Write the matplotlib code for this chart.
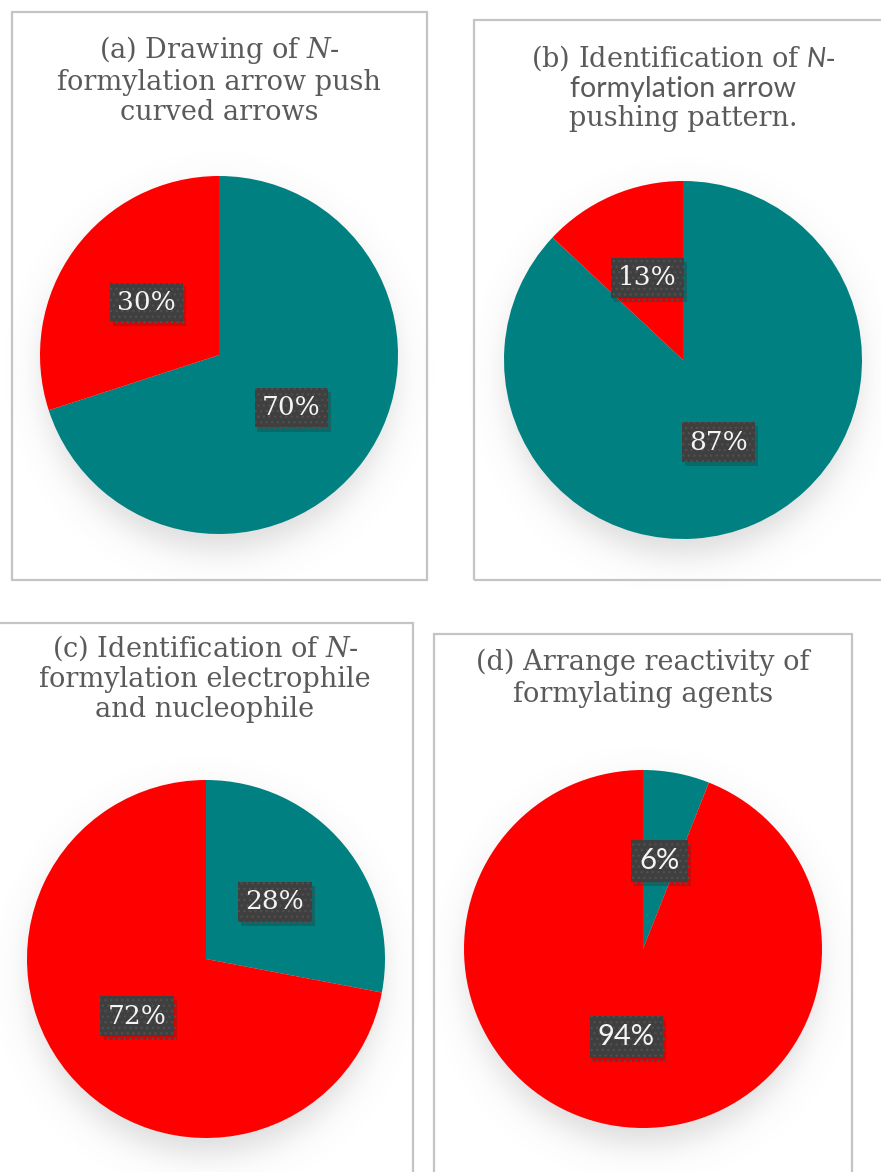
import numpy as np
import matplotlib
matplotlib.use("Agg")
import matplotlib.pyplot as plt
import matplotlib.patheffects as pe
from matplotlib.patches import Rectangle

# ---- data ----
titles = [
    ["(a) Drawing of $\\mathit{N}$-", "formylation arrow push", "curved arrows"],
    ["(b) Identification of $\\mathsf{N}$-", "formylation arrow", "pushing pattern."],
    ["(c) Identification of $\\mathit{N}$-", "formylation electrophile", "and nucleophile"],
    ["(d) Arrange reactivity of", "formylating agents"],
]
# first value = teal slice, second = red slice (clockwise from 12 o'clock)
teal_share = [70, 87, 28, 6]
red_share = [30, 13, 72, 94]
slice_colors = ["#008080", "#FF0000"]

# ---- layout (pixels) ----
W, H = 881, 1172
panel_boxes = [(12, 12, 427, 580), (474, 20, 886, 580), (-5, 623, 413, 1180), (434, 634, 852, 1180)]
pie_centers = [(219, 355), (683, 360), (206, 959), (643, 949)]
pie_radius = 179
title_lines_y = [[58, 90, 120], [67, 97, 126], [657, 687, 717], [670, 702]]
title_x = [219, 683, 205, 643]
# fonts for each line (line 2 of (b) and labels of (d) are in a sans face)
line_fonts = [
    ["DejaVu Serif"] * 3,
    ["DejaVu Serif", "Lato", "DejaVu Serif"],
    ["DejaVu Serif"] * 3,
    ["DejaVu Serif"] * 2,
]
label_fonts = ["DejaVu Serif", "DejaVu Serif", "DejaVu Serif", "Lato"]

plt.rcParams["mathtext.fontset"] = "custom"
plt.rcParams["mathtext.it"] = "DejaVu Serif:italic"
plt.rcParams["mathtext.sf"] = "Lato:italic"
plt.rcParams["hatch.linewidth"] = 1.0

fig = plt.figure(figsize=(W / 100, H / 100), dpi=100)
fig.patch.set_facecolor("white")


def fx(x):
    return x / W


def fy(y):
    return 1 - y / H


# panel borders
for x0, y0, x1, y1 in panel_boxes:
    fig.patches.append(Rectangle((fx(x0), fy(y1)), fx(x1) - fx(x0), fy(y0) - fy(y1),
                                 transform=fig.transFigure, fill=False,
                                 edgecolor="#c4c4c4", linewidth=1.6))

# soft drop shadow image under each pie
S = 460
lim = S / 2 / pie_radius
g = np.linspace(-lim, lim, 300)
gx, gy = np.meshgrid(g, g)
d = np.hypot(gx * 1.02, gy + 0.09)
shadow = np.zeros((300, 300, 4))
shadow[..., :3] = 0.45
shadow[..., 3] = 0.25 * 0.5 * (1 - np.tanh((d - 1.0) / 0.11))

for i in range(4):
    cx, cy = pie_centers[i]
    ax = fig.add_axes([fx(cx - S / 2), fy(cy + S / 2), S / W, S / H])
    ax.imshow(shadow, extent=(-lim, lim, -lim, lim), origin="lower", zorder=0)

    wedges, texts, autotexts = ax.pie(
        [teal_share[i], red_share[i]], colors=slice_colors, startangle=90,
        counterclock=False, radius=1, pctdistance=0.5,
        autopct=lambda p: f"{p:.0f}%",
        wedgeprops=dict(linewidth=0), frame=True)
    ax.set_xlim(-lim, lim)
    ax.set_ylim(-lim, lim)
    ax.set_aspect("equal")
    ax.axis("off")
    for w in wedges:
        w.set_zorder(2)
    for t in autotexts:
        t.set_fontfamily(label_fonts[i])
        t.set_fontsize(19 if label_fonts[i] == "DejaVu Serif" else 21)
        t.set_color("#f4f4f4")
        t.set_zorder(5)
        t.set_bbox(dict(boxstyle="square,pad=0.28", facecolor="#3f3f3f",
                        edgecolor="#4f4f4f", linewidth=0, hatch="..."))
        t.get_bbox_patch().set_path_effects([
            pe.withSimplePatchShadow(offset=(2, -3), shadow_rgbFace="#202020", alpha=0.22),
            pe.Normal()])

    # title lines
    for line, y, fam in zip(titles[i], title_lines_y[i], line_fonts[i]):
        fig.text(fx(title_x[i]), fy(y), line, ha="center", va="baseline",
                 fontsize=19.5 if fam == "DejaVu Serif" else 20.5, color="#5a5a5a", family=fam)

fig.savefig("out.png", dpi=100)
